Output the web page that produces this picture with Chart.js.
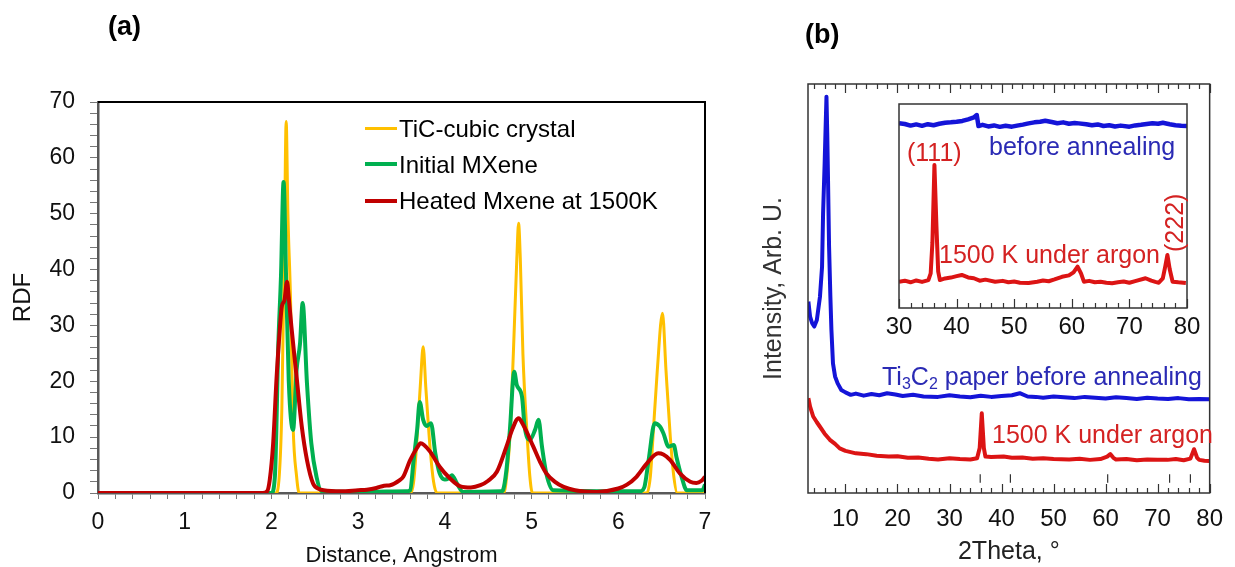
<!DOCTYPE html>
<html>
<head>
<meta charset="utf-8">
<script src="https://cdn.jsdelivr.net/npm/chart.js@4.4.0/dist/chart.umd.min.js"></script>
<style>
  body { margin: 0; background: #fff; }
  #wrap { position: relative; width: 1235px; height: 567px; overflow: hidden; font-family: "Liberation Sans", Arial, sans-serif; }
  canvas { position: absolute; }
  .lbl { position: absolute; white-space: nowrap; line-height: 1; }
  .key { position: absolute; width: 32px; }
  .blue { color: #2a2ab4; }
  .red { color: #d42222; }
  sub { font-size: 16px; vertical-align: -4px; line-height: 0; }
</style>
</head>
<body>
<div id="wrap">
  <canvas id="rdf" width="740" height="567" style="left:0;top:0"></canvas>
  <canvas id="xrd" width="495" height="567" style="left:740px;top:0"></canvas>
  <canvas id="inset" width="330" height="245" style="left:880px;top:100px"></canvas>

  <div class="lbl" style="left:108px;top:13px;font-size:27px;font-weight:bold">(a)</div>
  <div class="lbl" style="left:805px;top:21px;font-size:27px;font-weight:bold">(b)</div>

  <div class="key" style="left:365px;top:127px;height:3px;background:#ffc000"></div>
  <div class="key" style="left:365px;top:162px;height:4px;background:#00b050"></div>
  <div class="key" style="left:365px;top:199px;height:4px;background:#c00000"></div>
  <div class="lbl" style="left:399px;top:117px;font-size:24px">TiC-cubic crystal</div>
  <div class="lbl" style="left:399px;top:153px;font-size:24px">Initial MXene</div>
  <div class="lbl" style="left:399px;top:189px;font-size:24px">Heated Mxene at 1500K</div>

  <div class="lbl blue" style="left:882px;top:364px;font-size:25px">Ti<sub>3</sub>C<sub>2</sub> paper before annealing</div>
  <div class="lbl red" style="left:992px;top:422px;font-size:25px">1500 K under argon</div>
  <div class="lbl blue" style="left:989px;top:134px;font-size:25px">before annealing</div>
  <div class="lbl red" style="left:907px;top:140px;font-size:25px">(111)</div>
  <div class="lbl red" style="left:939px;top:242px;font-size:25px">1500 K under argon</div>
  <div class="lbl red" style="left:1145px;top:211px;width:58px;font-size:25px;transform:rotate(-90deg);transform-origin:29px 12px">(222)</div>
</div>

<script>
// (a) radial distribution functions, x = distance (Angstrom)
const ticX = [0, 2.05, 2.09, 2.12, 2.15, 2.17, 2.19, 2.22, 2.25, 2.29, 2.32, 3.59, 3.64, 3.68, 3.72, 3.75, 3.78, 3.83, 3.87, 3.91,
  4.68, 4.72, 4.75, 4.79, 4.83, 4.85, 4.87, 4.90, 4.95, 4.98, 5.01, 6.33, 6.37, 6.40, 6.45, 6.51, 6.55, 6.60, 6.64, 6.68, 7.0];
const ticY = [0, 0, 3, 15, 45, 66.5, 50, 35, 12, 3, 0, 0, 2, 10, 20, 26.2, 19, 8, 2, 0,
  0, 4, 10, 25, 42, 48.3, 42, 25, 10, 3, 0, 0, 3, 10, 22, 32.2, 22, 10, 3, 0, 0];

const initX = [0, 2.0, 2.04, 2.08, 2.11, 2.14, 2.17, 2.2, 2.25, 2.29, 2.33, 2.36, 2.41, 2.46, 2.52, 2.58, 3.0, 3.56, 3.6, 3.64,
  3.68, 3.71, 3.75, 3.79, 3.84, 3.89, 3.94, 4.0, 4.04, 4.08, 4.14, 4.21, 4.65, 4.67, 4.71, 4.75, 4.8, 4.83, 4.89, 4.92,
  4.98, 5.04, 5.08, 5.12, 5.17, 5.25, 6.25, 6.3, 6.35, 6.42, 6.48, 6.52, 6.58, 6.64, 6.67, 6.73, 6.79, 6.97, 7.0];
const initY = [0, 0, 3, 26.8, 38.7, 55.7, 38, 20, 11.3, 22, 26.8, 34, 19.6, 8.9, 2.9, 0.3, 0.2, 0.3, 0.5, 5.9,
  11.3, 16.3, 13.1, 12.0, 12.5, 7.1, 3.5, 2.4, 2.6, 3.2, 1.7, 0.2, 0.3, 0.5, 4.1, 11.3, 21.7, 19.3, 17.2, 11.9,
  9.5, 11.3, 13.1, 8.3, 3.5, 0.5, 0.3, 1.0, 5.9, 12.5, 11.9, 10.7, 8.3, 8.6, 6.5, 2.9, 0.5, 0.5, 1.5];

const heatX = [0, 1.9, 1.95, 1.98, 2.02, 2.06, 2.10, 2.12, 2.15, 2.18, 2.2, 2.23, 2.29, 2.35, 2.41, 2.48, 2.55, 2.6, 2.8, 3.0,
  3.1, 3.21, 3.3, 3.37, 3.48, 3.52, 3.6, 3.68, 3.72, 3.76, 3.83, 3.94, 4.06, 4.18, 4.3, 4.41, 4.5, 4.6, 4.71, 4.78,
  4.85, 4.9, 5.02, 5.1, 5.17, 5.27, 5.37, 5.5, 5.75, 6.0, 6.1, 6.21, 6.33, 6.46, 6.52, 6.6, 6.71, 6.83, 6.9, 6.96, 7.0];
const heatY = [0, 0, 0.3, 2.3, 8.9, 20.8, 30, 33.4, 34.5, 37.8, 35, 29.8, 20.8, 11.9, 5.9, 1.7, 0.7, 0.5, 0.3, 0.5,
  0.6, 0.9, 1.3, 1.4, 2.3, 2.9, 5.9, 8.1, 8.9, 8.6, 7.4, 4.7, 2.6, 1.2, 1.0, 1.4, 2.2, 3.8, 8.3, 11.5,
  13.4, 12.3, 8.3, 5.5, 3.5, 2.0, 1.1, 0.5, 0.2, 0.8, 1.5, 2.9, 5.3, 7.1, 6.9, 5.9, 3.5, 2.0, 1.8, 2.2, 2.9];

// (b) XRD patterns, x = 2theta (deg), y = arbitrary intensity 0..100
const paperX = [2.87, 3.2, 3.6, 4.0, 4.5, 5.1, 5.5, 5.7, 6.0, 6.2, 6.35, 6.5, 6.65, 6.85, 7.1, 7.3, 7.6, 8.0, 8.5, 9.2,
  10, 11, 12, 13.5, 15, 16.5, 18, 19.6, 21, 23, 25, 27.8, 30, 32, 34, 36, 38, 40, 42, 43.5,
  45, 46.6, 48, 50, 52, 54, 56, 58, 60, 62, 64, 66, 68, 70, 72, 74, 76, 78, 80];
const paperY = [46.8, 43.1, 41.5, 40.7, 42.3, 48, 55.3, 68.4, 80.6, 90, 96.9, 88, 76.5, 60.2, 48, 39.9, 31.7, 28.5, 26.8, 25.2,
  24.6, 24.0, 24.3, 23.8, 24.2, 23.9, 24.4, 24.1, 23.7, 24.0, 23.6, 23.5, 23.9, 23.6, 23.4, 23.8, 23.5, 23.7, 23.9, 24.4,
  23.6, 23.5, 23.3, 23.6, 23.4, 23.2, 23.5, 23.3, 23.1, 23.4, 23.2, 23.0, 23.3, 23.1, 23.0, 23.2, 22.9, 23.0, 22.9];

const argonX = [2.87, 3.2, 3.8, 4.5, 5.1, 6.0, 7.0, 8.0, 8.9, 10, 12, 14, 16, 18.3, 20, 22, 24, 26, 27.8, 30,
  32, 34, 35.3, 35.8, 36.2, 36.6, 36.9, 38, 40.4, 42, 44, 46, 48, 50, 53, 55, 57, 59, 60.3, 60.9,
  61.5, 62, 64, 66, 68, 70, 71.9, 73.5, 75, 76.3, 77, 77.6, 78, 79, 80];
const argonY = [23.2, 21.1, 18.7, 17.3, 16.2, 14.5, 13.0, 12.0, 10.9, 10.3, 9.7, 9.5, 9.1, 8.9, 9.0, 8.6, 8.7, 8.4, 8.2, 8.5,
  8.3, 8.2, 8.5, 11, 19.5, 11, 8.9, 8.8, 8.9, 8.6, 8.7, 8.4, 8.5, 8.3, 8.2, 8.4, 8.1, 8.3, 8.9, 9.5,
  8.6, 8.2, 8.3, 8.0, 8.2, 8.1, 8.1, 8.3, 8.0, 8.4, 10.7, 8.6, 8.1, 7.9, 7.8];

// TiC reference line positions
const refPeaks = [35.9, 41.7, 60.4, 72.3, 76.3];

// inset, 30..80 deg
const insetPaperX = [30, 31, 32, 33, 34, 35, 36, 37, 38, 39, 40, 41, 42, 43, 43.5, 43.8, 44.5, 45.5, 46.5, 47.5, 48.5, 49.6,
  50.5, 51.5, 52.5, 53.5, 54.5, 55.4, 56.5, 57.5, 58.5, 59.5, 60.5, 61.2, 62.5, 63.5, 64.5, 65.5, 66.5, 67.5, 68.5, 70,
  71, 72, 73, 74, 75, 75.8, 77, 78, 79, 80];
const insetPaperY = [90.6, 90.2, 89.4, 90.0, 89.3, 90.1, 89.6, 90.3, 90.8, 91.0, 91.3, 91.7, 92.5, 93.4, 94.6, 89.2, 89.8, 89.0, 89.5, 88.8, 89.3, 88.9,
  89.4, 89.9, 90.5, 91.0, 91.3, 91.8, 91.2, 90.6, 91.0, 90.3, 90.7, 90.5, 90.1, 89.6, 90.0, 89.2, 89.6, 89.0, 89.4, 88.9,
  89.5, 89.8, 90.2, 90.6, 90.3, 90.8, 90.1, 89.6, 89.3, 89.2];

const insetArgonX = [30, 31, 32, 33, 34, 35.1, 35.5, 35.8, 36.15, 36.5, 36.8, 37.1, 38, 39, 40, 40.9, 42, 43, 44, 45,
  46.7, 48, 49, 50, 51, 52.5, 54, 55, 56, 57, 58.3, 59.5, 60.3, 61.0, 61.6, 62.1, 63, 64, 65, 66,
  67, 68, 69, 70, 71, 72.8, 73.8, 74.5, 75.1, 75.8, 76.2, 76.6, 77.0, 77.5, 78.5, 79.8];
const insetArgonY = [12.9, 13.4, 12.6, 13.5, 12.8, 13.7, 17, 32, 70.1, 40, 18, 13.7, 14.5, 14.9, 15.6, 16.2, 15.0, 14.6, 13.4, 13.9,
  12.9, 13.3, 12.6, 13.0, 12.4, 12.3, 12.9, 13.5, 13.1, 14.0, 15.3, 16.0, 17.5, 20.3, 17.0, 12.9, 13.3, 12.6, 12.9, 12.4,
  12.1, 12.6, 13.0, 12.4, 13.2, 14.6, 13.4, 12.8, 12.4, 14.5, 20, 26, 19, 12.9, 12.6, 12.3];

const xrdTicks = [10, 20, 30, 40, 50, 60, 70, 80];
const insetTicks = [30, 40, 50, 60, 70, 80];

const FONT = '"Liberation Sans", Arial, sans-serif';
Chart.defaults.font.family = FONT;

const pts = (xs, ys) => xs.map((x, i) => ({ x, y: ys[i] }));

const minorOf = (from, to, major) => {
  const out = [];
  for (let v = from; v <= to; v += 2) if (!major.includes(v)) out.push(v);
  return out;
};

// frame lines + inward tick marks
const frame = {
  id: 'frame',
  afterDraw(chart, args, o) {
    const { ctx, chartArea: a, scales } = chart;
    ctx.save();
    ctx.strokeStyle = o.color;
    ctx.lineWidth = o.width;
    ctx.beginPath();
    if (o.box) {
      ctx.rect(a.left, a.top, a.right - a.left, a.bottom - a.top);
    } else {
      ctx.moveTo(a.left, a.top);
      ctx.lineTo(a.right, a.top);
      ctx.lineTo(a.right, a.bottom);
    }
    ctx.stroke();
    if (o.major) {
      ctx.lineWidth = 1.2;
      const x = scales.x;
      const mark = (vals, len) => {
        vals.forEach(v => {
          const px = Math.round(x.getPixelForValue(v)) + 0.5;
          ctx.moveTo(px, a.bottom);
          ctx.lineTo(px, a.bottom - len);
          if (o.top) {
            ctx.moveTo(px, a.top);
            ctx.lineTo(px, a.top + len);
          }
        });
      };
      ctx.beginPath();
      mark(o.major, 9);
      mark(o.minor, 5);
      ctx.stroke();
    }
    ctx.restore();
  }
};

const noPlugins = { legend: { display: false }, tooltip: { enabled: false } };

// ---- panel (a)
new Chart(document.getElementById('rdf'), {
  type: 'line',
  data: {
    datasets: [
      { label: 'TiC-cubic crystal', data: pts(ticX, ticY), borderColor: '#ffc000', borderWidth: 3, order: 2 },
      { label: 'Initial MXene', data: pts(initX, initY), borderColor: '#00b050', borderWidth: 4, order: 1 },
      { label: 'Heated Mxene at 1500K', data: pts(heatX, heatY), borderColor: '#c00000', borderWidth: 4, order: 0 }
    ]
  },
  options: {
    responsive: false,
    animation: false,
    layout: { padding: { top: 102, right: 35, left: 0, bottom: 0 } },
    elements: { point: { radius: 0 }, line: { cubicInterpolationMode: 'monotone' } },
    plugins: { ...noPlugins, frame: { color: '#000', width: 2 } },
    scales: {
      x: {
        type: 'linear', min: 0, max: 7,
        afterFit: s => { s.height = 74; },
        ticks: {
          stepSize: 0.2, autoSkip: false, maxRotation: 0, minRotation: 0, padding: 10,
          color: '#111', font: { size: 23 },
          callback: v => Math.abs(v - Math.round(v)) < 1e-6 ? Math.round(v) : ''
        },
        grid: { drawOnChartArea: false, tickLength: 6, color: '#777' },
        border: { color: '#595959', width: 2.5 },
        title: { display: true, text: 'Distance, Angstrom', color: '#111', font: { size: 22 }, padding: { top: 0, bottom: -2 } }
      },
      y: {
        min: 0, max: 70,
        afterFit: s => { s.width = 98; },
        ticks: {
          stepSize: 2, autoSkip: false, padding: 15, color: '#111', font: { size: 23 },
          callback: v => Math.abs(v / 10 - Math.round(v / 10)) < 1e-6 ? v : ''
        },
        grid: { drawOnChartArea: false, tickLength: 8, color: '#777' },
        border: { color: '#595959', width: 2.5 },
        title: { display: true, text: 'RDF', color: '#111', font: { size: 24 }, padding: { top: 9, bottom: 0 } }
      }
    }
  },
  plugins: [frame]
});

// ---- panel (b) main
const refLines = refPeaks.flatMap(p => [{ x: p, y: 2.5 }, { x: p, y: 4.6 }, { x: p, y: null }]);

new Chart(document.getElementById('xrd'), {
  type: 'line',
  data: {
    datasets: [
      { label: 'Ti3C2 paper before annealing', data: pts(paperX, paperY), borderColor: '#1414d8', borderWidth: 4 },
      { label: '1500 K under argon', data: pts(argonX, argonY), borderColor: '#dc1414', borderWidth: 4 },
      { label: 'TiC', data: refLines, borderColor: '#333', borderWidth: 1.2, spanGaps: false }
    ]
  },
  options: {
    responsive: false,
    animation: false,
    layout: { padding: { top: 84, right: 19, left: 0, bottom: 0 } },
    elements: { point: { radius: 0 }, line: { tension: 0, borderJoinStyle: 'round' } },
    plugins: {
      ...noPlugins,
      frame: { box: true, color: '#333', width: 1.5, top: true, major: xrdTicks, minor: minorOf(4, 78, xrdTicks) }
    },
    scales: {
      x: {
        type: 'linear', min: 2.8, max: 80,
        afterFit: s => { s.height = 74; },
        afterBuildTicks: s => { s.ticks = xrdTicks.map(v => ({ value: v })); },
        ticks: { autoSkip: false, maxRotation: 0, padding: 12, color: '#111', font: { size: 24 } },
        grid: { display: false, drawTicks: false },
        border: { display: false },
        title: { display: true, text: '2Theta, °', color: '#222', font: { size: 25 }, padding: { top: 0, bottom: 0 } }
      },
      y: {
        min: 0, max: 100,
        afterFit: s => { s.width = 68; },
        ticks: { display: false },
        grid: { display: false, drawTicks: false },
        border: { display: false },
        title: { display: true, text: 'Intensity, Arb. U.', color: '#333', font: { size: 25 }, padding: { top: 19, bottom: 0 } }
      }
    }
  },
  plugins: [frame]
});

// ---- panel (b) inset
new Chart(document.getElementById('inset'), {
  type: 'line',
  data: {
    datasets: [
      { label: 'before annealing', data: pts(insetPaperX, insetPaperY), borderColor: '#1414d8', borderWidth: 4.5 },
      { label: '1500 K under argon', data: pts(insetArgonX, insetArgonY), borderColor: '#dc1414', borderWidth: 4 }
    ]
  },
  options: {
    responsive: false,
    animation: false,
    layout: { padding: { top: 4, right: 23, left: 19, bottom: 0 } },
    elements: { point: { radius: 0 }, line: { tension: 0, borderJoinStyle: 'round' } },
    plugins: {
      ...noPlugins,
      frame: { box: true, color: '#333', width: 1.5, top: false, major: insetTicks, minor: minorOf(32, 78, insetTicks) }
    },
    scales: {
      x: {
        type: 'linear', min: 30, max: 80,
        afterFit: s => { s.height = 37; },
        afterBuildTicks: s => { s.ticks = insetTicks.map(v => ({ value: v })); },
        ticks: { autoSkip: false, maxRotation: 0, padding: 5, color: '#111', font: { size: 24 } },
        grid: { display: false, drawTicks: false },
        border: { display: false }
      },
      y: { display: false, min: 0, max: 100 }
    }
  },
  plugins: [frame]
});
</script>
</body>
</html>
